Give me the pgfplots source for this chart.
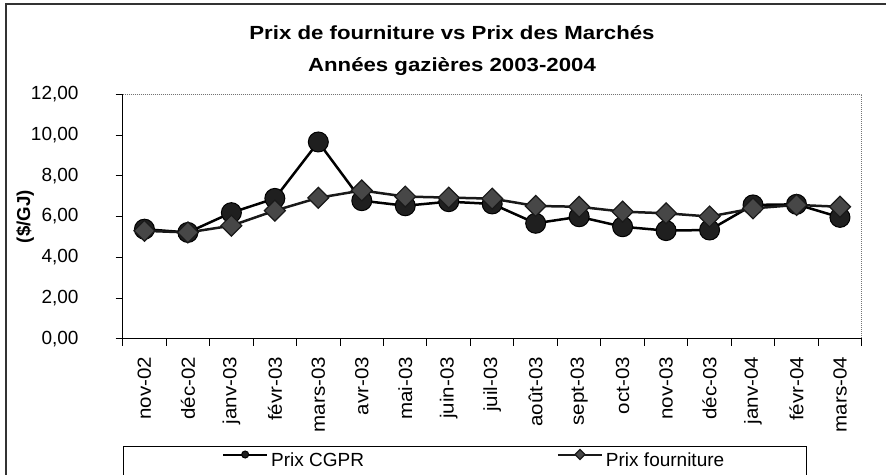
\documentclass[border=0pt]{standalone}
\usepackage{fontspec}
\setmainfont{Liberation Sans}
\newfontfamily\titlefont[FakeStretch=1.17]{Liberation Sans}
\newfontfamily\xlabfont[FakeStretch=1.08]{Liberation Sans}
\usepackage{pgfplots}
\pgfplotsset{compat=1.18}
\pgfplotstableread{
x cgpr fourn
0  5.38 5.30
1  5.22 5.22
2  6.19 5.55
3  6.89 6.29
4  9.66 6.92
5  6.78 7.28
6  6.53 6.98
7  6.73 6.93
8  6.62 6.88
9  5.67 6.52
10 5.99 6.48
11 5.50 6.24
12 5.31 6.16
13 5.34 6.00
14 6.57 6.40
15 6.60 6.57
16 5.96 6.48
}\prix
\begin{document}
\begin{tikzpicture}
\begin{axis}[
  at={(122.7pt,135.2pt)}, anchor=south west,
  scale only axis, width=739pt, height=244.5pt,
  xmin=-0.5, xmax=16.5, ymin=0, ymax=12,
  axis x line*=bottom, axis y line*=left,
  axis line style={-, line width=1.2pt, black},
  xtick={0,...,16},
  xticklabels={nov-02,déc-02,janv-03,févr-03,mars-03,avr-03,mai-03,juin-03,juil-03,août-03,sept-03,oct-03,nov-03,déc-03,janv-04,févr-04,mars-04},
  minor xtick={-0.5,0.5,...,16.5},
  ytick={0,2,...,12},
  tick align=outside,
  major tick length=7pt, minor tick length=7pt,
  major x tick style={draw=none},
  minor x tick style={black, line width=1pt},
  major y tick style={black, line width=1pt},
  xticklabel style={font=\xlabfont\fontsize{19}{22}\selectfont, rotate=90, anchor=east, inner sep=0pt},
  xticklabel shift=11pt,
  yticklabel style={font=\fontsize{19}{22}\selectfont, anchor=east, inner sep=0pt,
    /pgf/number format/.cd, fixed, fixed zerofill, precision=2, use comma, assume math mode=true},
  yticklabel shift=37pt,
  scaled y ticks=false,
  ylabel={(\$/GJ)},
  ylabel style={font=\bfseries\fontsize{18.7}{22}\selectfont, at={(axis description cs:-0.1322,0.5)}, anchor=center},
  legend columns=2,
  legend style={at={(0,-0.4385)}, anchor=north west, draw=black, line width=1pt,
    inner xsep=82pt, inner ysep=0pt, font=\fontsize{19}{22}\selectfont,
    nodes={inner sep=0pt, text height=20pt, text depth=30pt, anchor=base west},
    /tikz/column sep=0pt,
    /tikz/every odd column/.append style={column sep=3pt},
    /tikz/every even column/.append style={column sep=176pt}},
  legend image code/.code={\path (-16.7pt,0pt);
    \draw[mark repeat=2, mark phase=2, #1, line width=2pt, mark size=3.5pt] plot coordinates {(0pt,12pt) (22pt,12pt) (44pt,12pt)};},
  clip=false,
]
\addplot[black, line width=2.5pt, mark=*, mark size=10pt, mark options={fill=black!88, draw=black, line width=1pt}] table[x=x, y=cgpr] {\prix};
\addlegendentry{Prix CGPR}
\addplot[black!90, line width=2.5pt, mark=square*, mark size=7.4pt, mark options={rotate=45, fill=black!72, draw=black!90, line width=1.2pt}] table[x=x, y=fourn] {\prix};
\addlegendentry{Prix fourniture}
\draw[black!55, densely dotted, line width=1pt] (rel axis cs:0,1) -- (rel axis cs:1,1) -- (rel axis cs:1,0);
\end{axis}
\node[font=\titlefont\bfseries\fontsize{19}{22}\selectfont, anchor=base] at (452pt,434pt) {Prix de fourniture vs Prix des Marchés};
\node[font=\titlefont\bfseries\fontsize{19}{22}\selectfont, anchor=base] at (452pt,402.3pt) {Années gazières 2003-2004};
\draw[line width=1.2pt, black!80] (6pt,-20pt) -- (6pt,470pt) -- (900pt,470pt);
\pgfresetboundingbox
\useasboundingbox (0,0) rectangle (886pt,474pt);
\end{tikzpicture}
\end{document}
